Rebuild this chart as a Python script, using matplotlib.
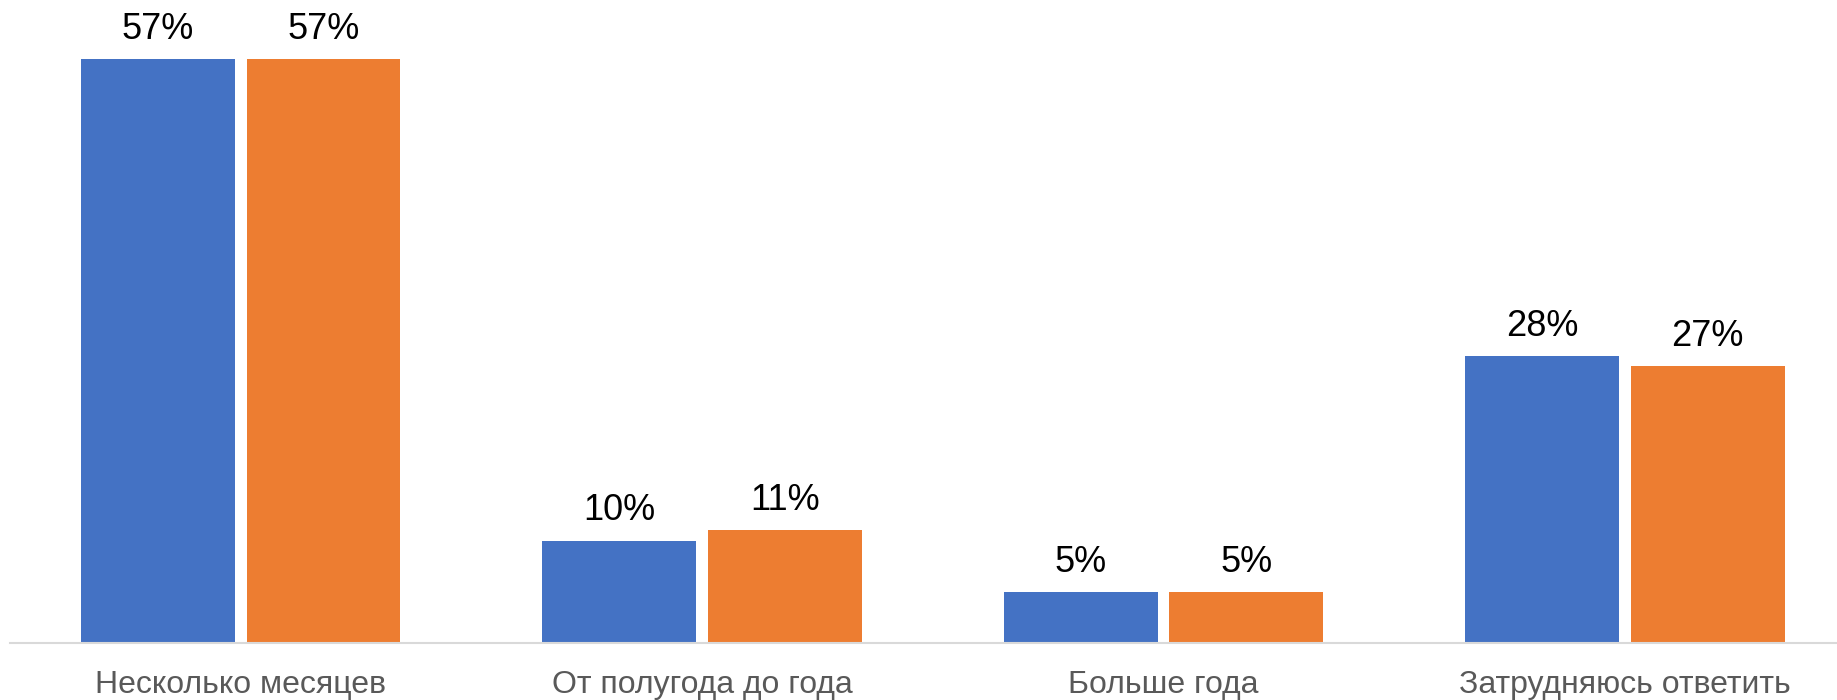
import matplotlib
matplotlib.use("Agg")
import matplotlib.pyplot as plt
import numpy as np

categories = ["Несколько месяцев", "От полугода до года", "Больше года", "Затрудняюсь ответить"]
series_a = [57, 10, 5, 28]
series_b = [57, 11, 5, 27]
labels_a = ["57%", "10%", "5%", "28%"]
labels_b = ["57%", "11%", "5%", "27%"]

plt.rcParams['font.family'] = ['Liberation Sans', 'DejaVu Sans']

W, H = 1837, 700
fig = plt.figure(figsize=(W / 100, H / 100), dpi=100)
left_px, right_px = 10, 1837
top_px, base_px = 28, 643
ax = fig.add_axes([left_px / W, (H - base_px) / H, (right_px - left_px) / W, (base_px - top_px) / H])

cat_w = 461.4
x = np.arange(len(categories))
bw = 0.333
gap = 0.026
off = (bw + gap) / 2
b1 = ax.bar(x - off, series_a, bw, color="#4472C4")
b2 = ax.bar(x + off, series_b, bw, color="#ED7D31")

for bars, labs in ((b1, labels_a), (b2, labels_b)):
    for rect, lab in zip(bars, labs):
        ax.annotate(lab, (rect.get_x() + rect.get_width() / 2, rect.get_height()),
                    xytext=(0, 14.4), textcoords="offset points", ha="center", va="baseline",
                    fontsize=26, color="black", annotation_clip=False)

ax.set_xlim(-0.5, -0.5 + (right_px - left_px) / cat_w)
ax.set_ylim(0, 60)
ax.set_xticks(x)
ax.set_xticklabels(categories, fontsize=23, color="#595959")
for lbl in ax.get_xticklabels():
    lbl.set_verticalalignment("baseline")
ax.tick_params(axis="x", length=0, pad=36)
ax.set_yticks([])
for s in ("top", "right", "left"):
    ax.spines[s].set_visible(False)
ax.spines["bottom"].set_color("#d9d9d9")
ax.spines["bottom"].set_linewidth(1.5)

fig.savefig("out.png", dpi=100)
